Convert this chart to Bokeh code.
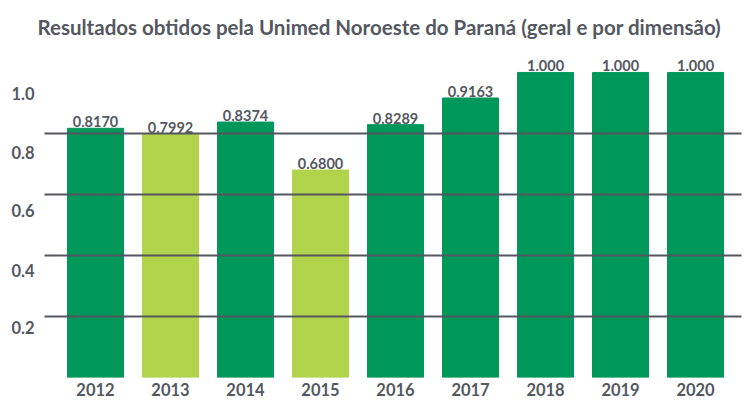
from bokeh.plotting import figure
from bokeh.models import ColumnDataSource, Range1d, FixedTicker, Title
from bokeh.core.properties import value
from bokeh.embed import file_html
from bokeh.resources import INLINE

# ---- data ----
years = [2012, 2013, 2014, 2015, 2016, 2017, 2018, 2019, 2020]
scores = [0.8170, 0.7992, 0.8374, 0.6800, 0.8289, 0.9163, 1.000, 1.000, 1.000]
score_labels = ["0.8170", "0.7992", "0.8374", "0.6800", "0.8289", "0.9163", "1.000", "1.000", "1.000"]
bar_colors = ["#00975B", "#B2D34C", "#00975B", "#B2D34C", "#00975B",
              "#00975B", "#00975B", "#00975B", "#00975B"]
grid_values = [0.2, 0.4, 0.6, 0.8]
y_tick_labels = ["0.2", "0.4", "0.6", "0.8", "1.0"]
y_tick_positions = [0.163, 0.352, 0.547, 0.738, 0.930]

title_text = "Resultados obtidos pela Unimed Noroeste do Paraná (geral e por dimensão)"
TXT = "#545861"
FONT = "Lato"

src = ColumnDataSource(dict(year=years, score=scores, label=score_labels, color=bar_colors))

p = figure(frame_width=697, frame_height=327, output_backend="svg", toolbar_location=None,
           x_range=Range1d(2011.32, 2020.613), y_range=Range1d(0, 1.072),
           min_border_left=44, min_border_right=6, min_border_bottom=28, min_border_top=50)
p.title = None
p.outline_line_color = None
p.background_fill_color = "white"
p.border_fill_color = "white"

# small spacer between title and plot area (nearest the frame)
p.add_layout(Title(text=" ", text_font_size="4px", text_color="white", standoff=0), "above")
p.add_layout(Title(text=title_text, text_font=FONT, text_font_size="20.5px",
                   text_font_style="bold", text_color=TXT, align="left", offset=-7),
             "above")

p.vbar(x="year", top="score", width=0.747, bottom=0, color="color", source=src)
p.text(x="year", y="score", text="label", source=src, text_align="center",
       text_baseline="bottom", y_offset=-1, text_font=value(FONT),
       text_font_size="14.5px", text_font_style="bold", text_color=TXT)

p.xgrid.visible = False
p.ygrid.ticker = FixedTicker(ticks=grid_values)
p.ygrid.grid_line_color = "#54575E"
p.ygrid.grid_line_width = 2
p.ygrid.level = "overlay"

p.xaxis.ticker = FixedTicker(ticks=years)
p.yaxis.ticker = FixedTicker(ticks=y_tick_positions)
p.yaxis.major_label_overrides = {pos: lab for pos, lab in zip(y_tick_positions, y_tick_labels)}
for ax in (p.xaxis, p.yaxis):
    ax.axis_line_color = None
    ax.major_tick_line_color = None
    ax.minor_tick_line_color = None
    ax.major_tick_out = 0
    ax.major_tick_in = 0
    ax.minor_tick_out = 0
    ax.minor_tick_in = 0
    ax.major_label_text_font = FONT
    ax.major_label_text_font_style = "bold"
    ax.major_label_text_font_size = "16.5px"
    ax.major_label_text_color = TXT
p.xaxis.major_label_standoff = 5
p.yaxis.major_label_standoff = 10

open("out.html", "w").write(file_html(p, INLINE))
